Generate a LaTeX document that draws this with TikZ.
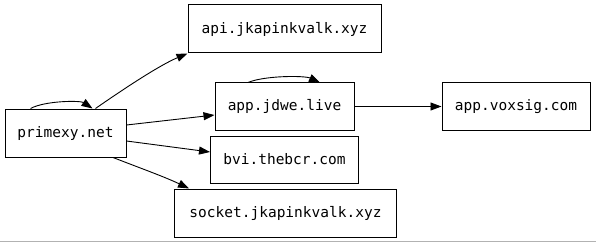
\documentclass[tikz,border=0pt]{standalone}
\usepackage{fontspec}
\setmonofont{DejaVu Sans Mono}
\usetikzlibrary{arrows.meta,calc}
\begin{document}
\begin{tikzpicture}[x=1pt,y=-1pt,
  host/.style={draw,line width=1pt,inner sep=0pt,font=\ttfamily\fontsize{14.5}{16}\selectfont},
  link/.style={line width=0.9pt,-{Triangle[length=11pt,width=8pt]}}]
\useasboundingbox (0,0) rectangle (596,243);
\node[host,minimum width=121pt,minimum height=48pt] (p) at (65.5,133) {primexy.net};
\node[host,minimum width=193pt,minimum height=48pt] (a) at (284.5,29) {api.jkapinkvalk.xyz};
\node[host,minimum width=139pt,minimum height=47pt] (j) at (284.5,106.5) {app.jdwe.live};
\node[host,minimum width=148pt,minimum height=47pt] (b) at (284.5,159.5) {bvi.thebcr.com};
\node[host,minimum width=222pt,minimum height=48pt] (s) at (285.5,213) {socket.jkapinkvalk.xyz};
\node[host,minimum width=148pt,minimum height=48pt] (v) at (516,106.5) {app.voxsig.com};
\coordinate (gl) at (0,241.5);
\coordinate (gr) at (596,241.5);
\draw[gray!60,line width=1pt] (gl) -- (gr);
% self loops
\draw[link] ([xshift=-35pt]p.north) .. controls ([xshift=-20pt,yshift=8pt]p.north) and ([xshift=15pt,yshift=8pt]p.north) .. ([xshift=27pt]p.north);
\draw[link] ([xshift=-36.5pt]j.north) .. controls ([xshift=-20pt,yshift=7pt]j.north) and ([xshift=20pt,yshift=7pt]j.north) .. ([xshift=35.5pt]j.north);
% edges
\draw[link] ([xshift=30pt]p.north) .. controls (125,88) and (160,65) .. (a.south west);
\draw[link] ([yshift=8pt]p.east) -- ([yshift=-8.5pt]j.west);
\draw[link] ([yshift=-8pt]p.east) -- ([yshift=7.5pt]b.west);
\draw[link] ([xshift=47.5pt]p.south) .. controls (140,168) and (165,177) .. ([xshift=15pt]s.north west);
\draw[link] (j.east) -- (v.west);
\end{tikzpicture}
\end{document}
